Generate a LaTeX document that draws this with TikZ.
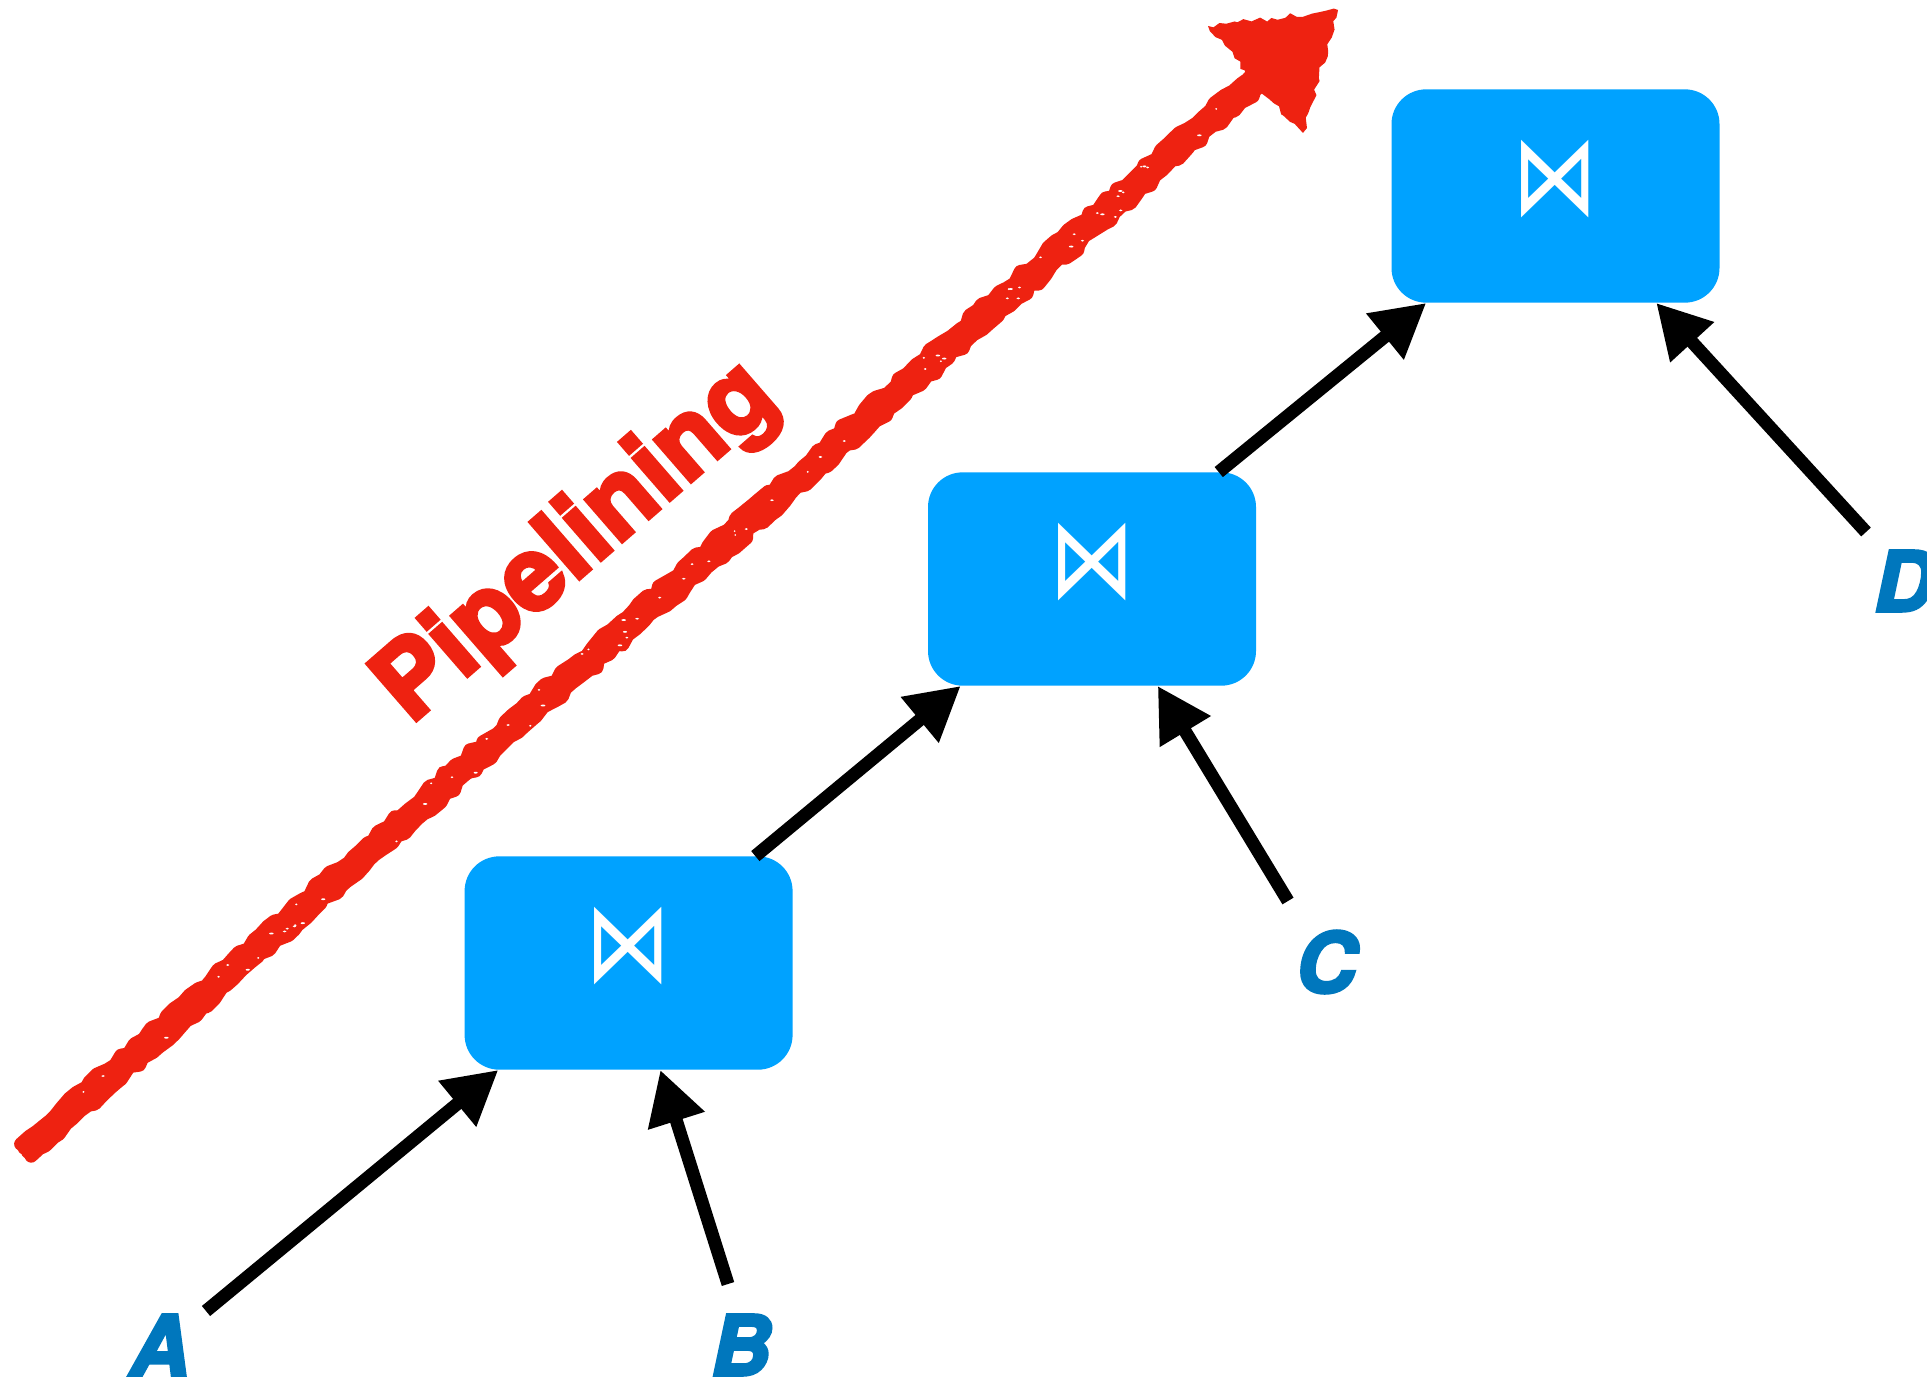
\documentclass[tikz,border=0pt]{standalone}
\usepackage{fontspec}
\newfontfamily\labfont{texgyreheros-bolditalic.otf}[FakeBold=4]
\newfontfamily\titfont{texgyreheros-bold.otf}[FakeBold=4]
\newfontfamily\symfont{DejaVu Sans}
\usetikzlibrary{arrows.meta,calc,decorations.pathmorphing}
\definecolor{boxblue}{HTML}{00A2FF}
\definecolor{labblue}{HTML}{0077BD}
\definecolor{crayon}{HTML}{EE2211}
\begin{document}
\begin{tikzpicture}[x=0.75pt,y=-0.75pt,
  joinbox/.style={fill=boxblue, rounded corners=26pt, minimum width=246pt, minimum height=160pt, inner sep=0pt},
  joinsym/.style={text=white, font=\symfont\fontsize{80}{80}\selectfont, inner sep=0pt},
  rel/.style={text=labblue, font=\labfont\fontsize{62}{62}\selectfont, inner sep=0pt},
  flow/.style={line width=9.75pt, -{Triangle[length=40pt,width=42pt]}},
  crayonstroke/.style={crayon, line width=10pt, line cap=round, line join=round, decorate,
    decoration={random steps, segment length=7pt, amplitude=2.4pt}},
  title/.style={text=crayon, font=\titfont\fontsize{77}{77}\selectfont, inner sep=0pt}
]
\useasboundingbox (0,0) rectangle (1927,1381);

% join boxes
\node[joinbox] (b1) at (628.6,963) {};
\node[joinbox] (b2) at (1092,579) {};
\node[joinbox] (b3) at (1555.5,196) {};
\node[joinsym] (j1) at ($(b1.center)+(0,-17)$) {\scalebox{0.8}[1.06]{⋈}};
\node[joinsym] (j2) at ($(b2.center)+(0,-17)$) {\scalebox{0.8}[1.06]{⋈}};
\node[joinsym] (j3) at ($(b3.center)+(0,-17)$) {\scalebox{0.8}[1.06]{⋈}};

% relation labels
\node[rel] (A) at (160,1345) {A};
\node[rel] (B) at (741,1345) {B};
\node[rel] (C) at (1326,962) {C};
\node[rel, anchor=west] (D) at (1874,581) {D};

% arrow tails
\coordinate (tA) at (206,1311);
\coordinate (tB) at (728,1284);
\coordinate (tC) at (1288,901);
\coordinate (tD) at (1866,532);

\draw[flow] (tA) -- ($(b1.south west)+(34,0)$);
\draw[flow] (tB) -- ($(b1.south west)+(196,0)$);
\draw[flow] ($(b1.north west)+(291,0)$) -- ($(b2.south west)+(33,0)$);
\draw[flow] (tC) -- ($(b2.south west)+(230,0)$);
\draw[flow] ($(b2.north west)+(291,0)$) -- ($(b3.south west)+(35,0)$);
\draw[flow] (tD) -- ($(b3.south west)+(265,0)$);

% pipelining crayon arrow
\pgfmathsetseed{11}
\coordinate (ps) at (26,1150);
\coordinate (pe) at (1262,75);
\coordinate (ptip) at (1338,10);
\coordinate (pleft) at (1208,26);
\coordinate (pright) at (1303,133);
\foreach \dx/\dy in {-5.2/-6, -1.8/-2, 1.8/2, 5.2/6}
  \draw[crayonstroke] ($(ps)+(\dx,\dy)$) -- ($(pe)+(\dx,\dy)$);
\fill[crayon, line join=round, decorate, decoration={random steps, segment length=5pt, amplitude=2.2pt}]
  (ptip) -- (pleft) -- ($(pe)+(-8,8)$) -- (pright) -- cycle;
\foreach \i in {1,...,70}{
  \pgfmathsetmacro\t{0.03+0.94*rnd}
  \pgfmathsetmacro\o{(rnd-0.5)*22}
  \pgfmathsetmacro\r{0.6+1.2*rnd}
  \fill[white] ($(ps)!\t!(pe)+(0.656*\o,0.755*\o)$) ellipse [x radius=\r pt, y radius=0.7pt];
}

\node[title, rotate=41] (pipe) at (578,544) {Pipelining};
\end{tikzpicture}
\end{document}
